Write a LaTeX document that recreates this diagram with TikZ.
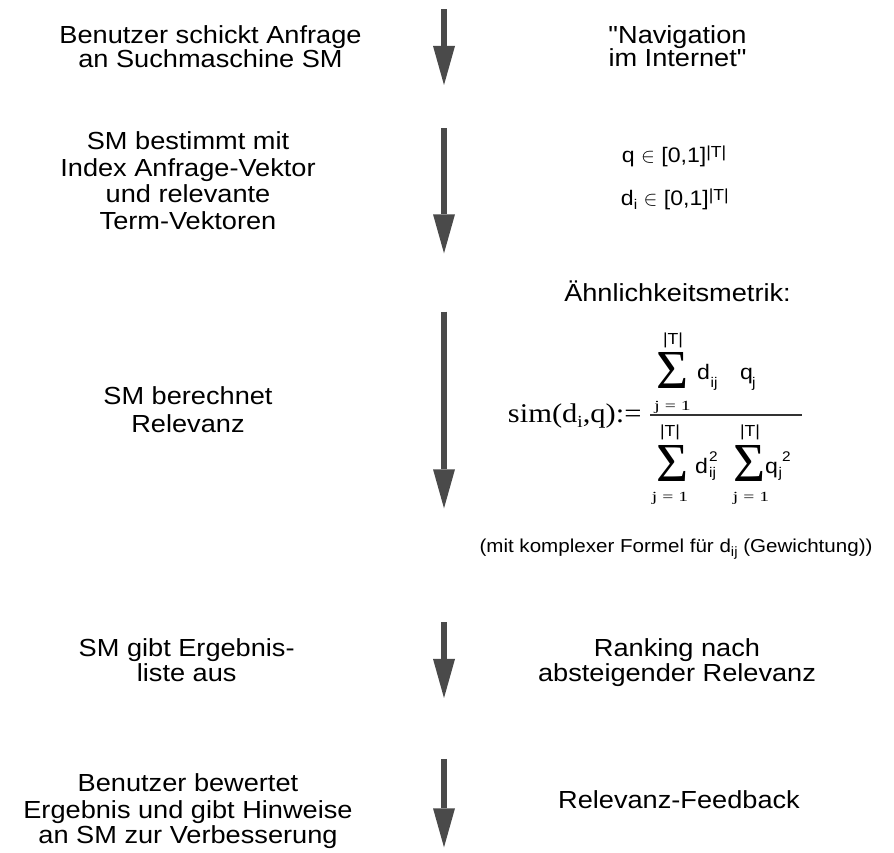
\documentclass[tikz,border=0pt]{standalone}
\usepackage{fontspec}
\setmainfont{Liberation Sans}[FakeStretch=1.1, Ligatures=TeXOff]
\newfontfamily\seriffont{Liberation Serif}
\newfontfamily\simfont{Liberation Serif}[FakeStretch=1.13]
\newfontfamily\limfont{Liberation Serif}[FakeStretch=1.4]
\usetikzlibrary{arrows.meta}
\definecolor{arrowgray}{HTML}{4A4A4A}
\tikzset{
  big/.style={font=\fontsize{24.7}{26}\selectfont, inner sep=0pt, anchor=base},
  mid/.style={font=\fontsize{21}{22}\selectfont, inner sep=0pt, anchor=base west},
  small/.style={font=\fontsize{18.7}{20}\selectfont, inner sep=0pt, anchor=base},
  sig/.style={font=\seriffont\fontsize{55}{55}\selectfont, inner sep=0pt, anchor=base},
  lim/.style={font=\limfont\fontsize{14}{14}\selectfont, inner sep=0pt, anchor=base},
  bar/.style={font=\fontsize{16}{16}\selectfont, inner sep=0pt, anchor=base},
  fvar/.style={font=\fontsize{21}{21}\selectfont, inner sep=0pt, anchor=base west},
  fsub/.style={font=\fontsize{14}{14}\selectfont, inner sep=0pt, anchor=base west},
  flow/.style={draw=arrowgray, line width=6.5pt,
    -{Triangle[width=22pt,length=39pt,line width=0pt,fill=arrowgray]}},
}
\begin{document}
\begin{tikzpicture}[x=1pt,y=1pt]
\useasboundingbox (0,0) rectangle (894,853);

% arrows
\coordinate (a1s) at (444,843.7); \coordinate (a1e) at (444,768);
\coordinate (a2s) at (444,724.7); \coordinate (a2e) at (444,599.7);
\coordinate (a3s) at (444,541.3); \coordinate (a3e) at (444,344.7);
\coordinate (a4s) at (444,230.7); \coordinate (a4e) at (444,155);
\coordinate (a5s) at (444,94);    \coordinate (a5e) at (444,5.7);
\draw[flow] (a1s) -- (a1e);
\draw[flow] (a2s) -- (a2e);
\draw[flow] (a3s) -- (a3e);
\draw[flow] (a4s) -- (a4e);
\draw[flow] (a5s) -- (a5e);

% block 1
\node[big] (l1a) at (210.5,809.7) {Benutzer schickt Anfrage};
\node[big] (l1b) at (210.5,785.3) {an Suchmaschine SM};
\node[big] (r1a) at (677.5,809.7) {"Navigation};
\node[big] (r1b) at (677.5,786.3) {im Internet"};

% block 2
\node[big] (l2a) at (188,703.7) {SM bestimmt mit};
\node[big] (l2b) at (188,676.3) {Index Anfrage-Vektor};
\node[big] (l2c) at (188,650.3) {und relevante};
\node[big] (l2d) at (188,623.7) {Term-Vektoren};
\node[mid] (r2a) at (621.7,690.3) {q $\in$ [0,1]\raisebox{5pt}{\fontsize{16}{16}\selectfont|T|}};
\node[mid] (r2b) at (620.7,647) {d\raisebox{-4pt}{\fontsize{14}{14}\selectfont i} $\in$ [0,1]\raisebox{5pt}{\fontsize{16}{16}\selectfont|T|}};

% block 3
\node[big] (r3t) at (677.5,551.3) {Ähnlichkeitsmetrik:};
\node[big] (l3a) at (188,448) {SM berechnet};
\node[big] (l3b) at (188,420.3) {Relevanz};

% formula
\node[inner sep=0pt, anchor=base east, font=\simfont\fontsize{27}{27}\selectfont] (sim) at (641.7,430)
  {sim(d\raisebox{-5pt}{\fontsize{17}{17}\selectfont i},q):=};
\node[bar] (nT) at (673,508) {|T|};
\node[sig] (nS) at (672.5,464.7) {Σ};
\node[lim] (nL) at (672.5,442) {j = 1};
\node[fvar] (nd) at (697,473) {d};
\node[fsub] (ndij) at (710.5,465) {ij};
\node[fvar] (nq) at (740,473) {q};
\node[fsub] (nqj) at (752,465) {j};
\coordinate (barl) at (650,438); \coordinate (barr) at (802,438);
\draw[black!80, line width=1.3pt] (barl) -- (barr);
\node[bar] (dT1) at (670,416) {|T|};
\node[bar] (dT2) at (750,416) {|T|};
\node[sig] (dS1) at (672.5,371.3) {Σ};
\node[sig] (dS2) at (749,371.3) {Σ};
\node[fvar] (dd) at (695,379.7) {d};
\node[fsub] (dd2) at (709,391.3) {2};
\node[fsub] (ddij) at (709,375) {ij};
\node[fvar] (dq) at (765,379.7) {q};
\node[fsub] (dq2) at (782,391.3) {2};
\node[fsub] (dqj) at (778.5,375) {j};
\node[lim] (dL1) at (670,351) {j = 1};
\node[lim] (dL2) at (751,351) {j = 1};

\node[small] (note) at (676,300) {(mit komplexer Formel für d\raisebox{-4pt}{\fontsize{13.5}{13.5}\selectfont ij} (Gewichtung))};

% block 4
\node[big] (l4a) at (186.7,196.3) {SM gibt Ergebnis-};
\node[big] (l4b) at (186.7,171.3) {liste aus};
\node[big] (r4a) at (677,196.3) {Ranking nach};
\node[big] (r4b) at (677,171.3) {absteigender Relevanz};

% block 5
\node[big] (l5a) at (188,61.3) {Benutzer bewertet};
\node[big] (l5b) at (188,34.7) {Ergebnis und gibt Hinweise};
\node[big] (l5c) at (188,9) {an SM zur Verbesserung};
\node[big] (r5a) at (679,44) {Relevanz-Feedback};
\end{tikzpicture}
\end{document}
